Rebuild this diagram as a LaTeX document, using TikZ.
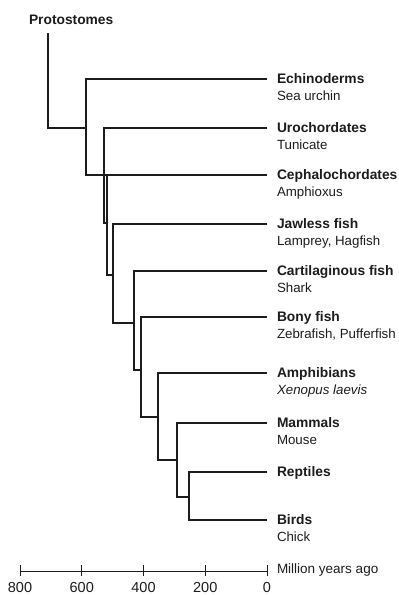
\documentclass[tikz,border=0pt]{standalone}
\usepackage{fontspec}
\setmainfont{Liberation Sans}
\definecolor{ink}{HTML}{1C1C1C}

\begin{document}
\begin{tikzpicture}[x=1pt,y=-1pt,
 taxon/.style={anchor=west,inner sep=0pt,outer xsep=10pt,text height=9.8pt,text depth=0pt,
   font=\bfseries\fontsize{13.8}{16}\selectfont,color=ink},
 common/.style={anchor=base west,inner sep=0pt,outer xsep=10pt,font=\fontsize{13.3}{16}\selectfont,color=ink},
 tick/.style={inner sep=0pt,text height=10pt,text depth=0pt,font=\fontsize{14.5}{16}\selectfont,color=ink},
 branch/.style={line width=1.4pt,color=ink},
 scaleline/.style={line width=0.9pt,color=ink}]
 \useasboundingbox (0,0) rectangle (399,595);
 % taxa
 \node[taxon] (proto) at (19,20) {Protostomes};
 \foreach \n/\y/\name/\com in {echi/79/Echinoderms/Sea urchin,uro/128/Urochordates/Tunicate,
   ceph/175/Cephalochordates/Amphioxus,jawl/224/Jawless fish/{Lamprey, Hagfish},
   cart/271/Cartilaginous fish/Shark,bony/317/Bony fish/{Zebrafish, Pufferfish},
   amph/373/Amphibians/\textit{Xenopus laevis},mamm/423/Mammals/Mouse,rept/472/Reptiles/{},bird/520/Birds/Chick}{
   \node[taxon] (\n) at (267,\y) {\name};
   \node[common] (\n-c) at ([yshift=-16.5pt]\n.base west) {\com};
 }
 % tree
 \coordinate (root) at (48,128);
 \draw[branch] (root |- proto.south) ++(0,8) -- (root) -- (86,128);
 \draw[branch] (echi.west) -| (86,175) -- (ceph.west);
 \draw[branch] (uro.west) -| (104,223) -- (107,223);
 \draw[branch] (ceph.west -| 107,0) |- (113,275);
 \foreach \n/\x/\b/\s in {jawl/113/323/134,cart/134/370/141,bony/141/417/158,amph/158/460/177,mamm/177/497/189}
   \draw[branch] (\n.west) -| (\x,\b) -- (\s,\b);
 \draw[branch] (rept.west) -| (189,520) -- (bird.west);
 % time scale
 \draw[scaleline] (20,571) -- (267,571);
 \foreach \t in {800,600,400,200,0}{
   \draw[scaleline] ({267-0.30875*\t},565) -- ++(0,11);
   \node[tick] (t\t) at ({267-0.30875*\t},587) {\t};
 }
 \node[taxon,font=\fontsize{13.5}{16}\selectfont] (myr) at (267,569) {Million years ago};
\end{tikzpicture}
\end{document}
